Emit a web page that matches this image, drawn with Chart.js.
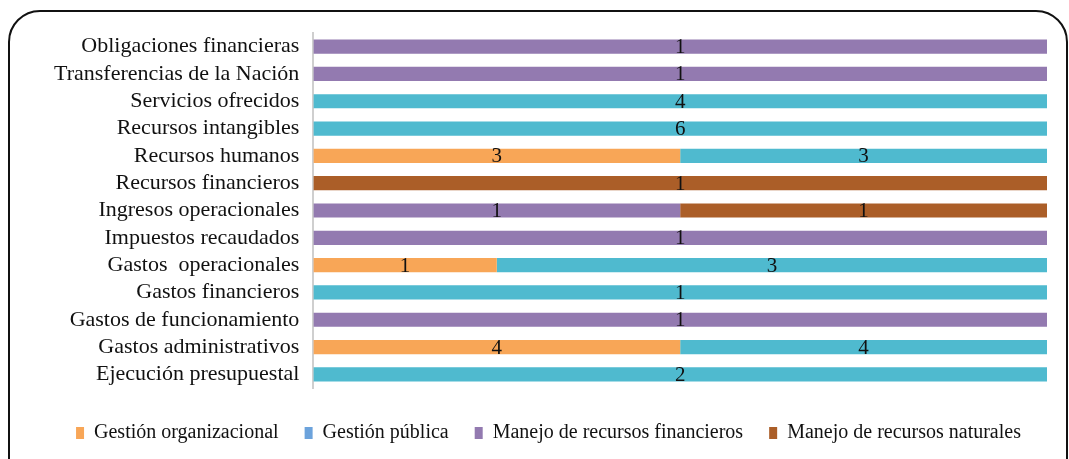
<!DOCTYPE html>
<html>
<head>
<meta charset="utf-8">
<script src="https://cdn.jsdelivr.net/npm/chart.js@4.4.0/dist/chart.umd.min.js"></script>
<style>
  html, body { margin: 0; padding: 0; background: #fff; overflow: hidden; }
  #frame {
    position: absolute; left: 8px; top: 10px; width: 1060px; height: 490px;
    border: 2px solid #111; border-radius: 32px; box-sizing: border-box;
  }
  #wrap { position: absolute; left: 0; top: 0; width: 1069px; height: 459px; }
</style>
</head>
<body>
<div id="frame"></div>
<div id="wrap"><canvas id="chart"></canvas></div>
<script>
// rows, top to bottom
const categories = [
  'Obligaciones financieras',
  'Transferencias de la Nación',
  'Servicios ofrecidos',
  'Recursos intangibles',
  'Recursos humanos',
  'Recursos financieros',
  'Ingresos operacionales',
  'Impuestos recaudados',
  'Gastos  operacionales',
  'Gastos financieros',
  'Gastos de funcionamiento',
  'Gastos administrativos',
  'Ejecución presupuestal'
];

const seriesNames = [
  'Gestión organizacional',
  'Gestión pública',
  'Manejo de recursos financieros',
  'Manejo de recursos naturales'
];

const organizacional = [0, 0, 0, 0, 3, 0, 0, 0, 1, 0, 0, 4, 0];
const publica        = [0, 0, 4, 6, 3, 0, 0, 0, 3, 1, 0, 4, 2];
const financieros    = [1, 1, 0, 0, 0, 0, 1, 1, 0, 0, 1, 0, 0];
const naturales      = [0, 0, 0, 0, 0, 1, 1, 0, 0, 0, 0, 0, 0];

const counts = [organizacional, publica, financieros, naturales];
const barColors = ['#F8A657', '#4FBACF', '#937AB0', '#AB5E28'];
const legendColors = ['#F8A657', '#6CA3DC', '#937AB0', '#AB5E28'];

// 100% stacked: each row is split by its share of the row total
const rowTotals = categories.map((_, i) => counts.reduce((s, arr) => s + arr[i], 0));
const toShare = arr => arr.map((v, i) => rowTotals[i] ? v / rowTotals[i] * 100 : 0);

const serif = "'Liberation Serif', 'DejaVu Serif', serif";

// writes the count in the middle of each segment
const segmentLabels = {
  id: 'segmentLabels',
  afterDatasetsDraw(chart) {
    const ctx = chart.ctx;
    ctx.save();
    ctx.font = '21px ' + serif;
    ctx.fillStyle = '#111';
    ctx.textAlign = 'center';
    ctx.textBaseline = 'middle';
    chart.data.datasets.forEach((ds, di) => {
      chart.getDatasetMeta(di).data.forEach((bar, i) => {
        const n = counts[di][i];
        if (!n) return;
        const p = bar.getCenterPoint();
        ctx.fillText(String(n), p.x, p.y + 1);
      });
    });
    ctx.restore();
  }
};

new Chart(document.getElementById('chart'), {
  type: 'bar',
  data: {
    labels: categories,
    datasets: counts.map((arr, k) => ({
      label: seriesNames[k],
      data: toShare(arr),
      backgroundColor: barColors[k],
      borderWidth: 0,
      categoryPercentage: 0.52,
      barPercentage: 1
    }))
  },
  options: {
    indexAxis: 'y',
    responsive: true,
    maintainAspectRatio: false,
    animation: false,
    layout: { padding: { left: 50, right: 22, top: 33, bottom: 6 } },
    scales: {
      x: {
        stacked: true, min: 0, max: 100,
        display: true,
        afterFit: scale => { scale.height = 9; },
        grid: { display: false, drawTicks: false },
        border: { display: false },
        ticks: { display: false }
      },
      y: {
        stacked: true,
        afterFit: scale => { scale.width -= 10; },
        grid: { display: false, drawTicks: false },
        border: { display: true, color: '#cfcfcf', width: 2 },
        ticks: {
          color: '#111',
          padding: 14,
          autoSkip: false,
          font: { family: serif, size: 22 }
        }
      }
    },
    plugins: {
      tooltip: { enabled: false },
      legend: {
        position: 'bottom',
        labels: {
          color: '#111',
          boxWidth: 8,
          boxHeight: 12,
          padding: 26,
          font: { family: serif, size: 20 },
          generateLabels: chart => chart.data.datasets.map((ds, k) => ({
            text: ds.label,
            fillStyle: legendColors[k],
            strokeStyle: legendColors[k],
            lineWidth: 0,
            datasetIndex: k,
            fontColor: '#111'
          }))
        }
      }
    }
  },
  plugins: [segmentLabels]
});
</script>
</body>
</html>
